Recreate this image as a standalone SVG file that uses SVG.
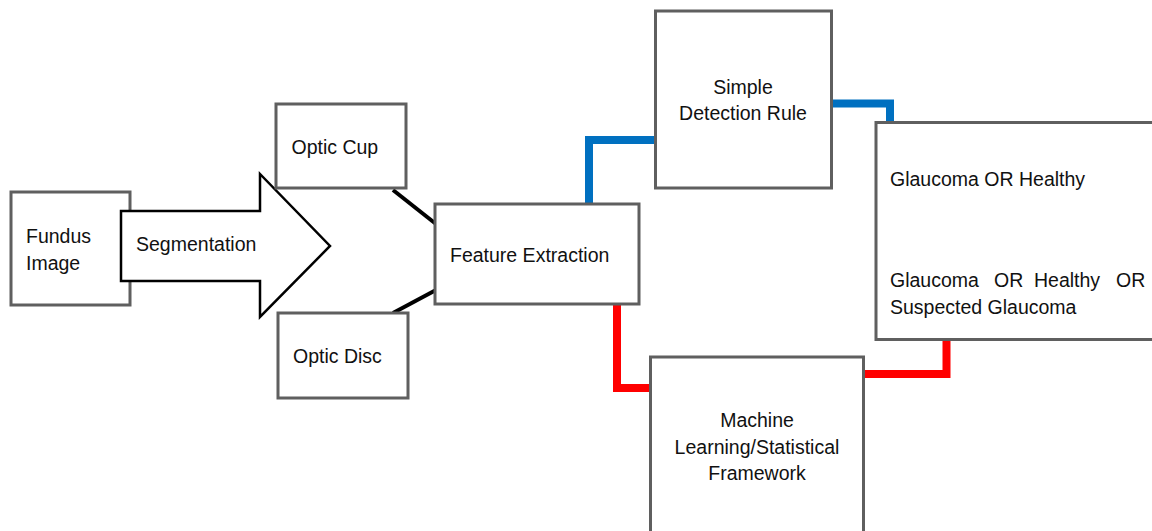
<svg xmlns="http://www.w3.org/2000/svg" width="1152" height="531" viewBox="0 0 1152 531">
<style>
.box{fill:#fff;stroke:#5f5f5f;stroke-width:3}
.t{font-family:"Liberation Sans",Arial,sans-serif;font-size:19.5px;fill:#111}
.c{text-anchor:middle}
.blue{fill:none;stroke:#0070c0;stroke-width:8}
.red{fill:none;stroke:#ff0000;stroke-width:8}
.blk{stroke:#000;stroke-width:4}
</style>
<rect width="1152" height="531" fill="#fff"/>
<g id="connectors">
<path class="blk" d="M393,190 L436,224"/>
<path class="blk" d="M393,313 L436,290"/>
<path class="blue" d="M589,204 V140 H656"/>
<path class="blue" d="M831,103.5 H890 V123"/>
<path class="red" d="M617,304 V388 H651"/>
<path class="red" d="M863,374 H946.5 V339"/>
</g>
<g id="fundus">
<rect class="box" x="11" y="192" width="119" height="113"/>
<text class="t" x="26" y="243">Fundus</text>
<text class="t" x="26" y="270">Image</text>
</g>
<g id="segmentation">
<path d="M121,211 H260 V174 L330,246 L260,317 V281 H121 Z" fill="#fff" stroke="#000" stroke-width="2.5" stroke-linejoin="miter"/>
<text class="t" x="136" y="251">Segmentation</text>
</g>
<g id="optic-cup">
<rect class="box" x="276" y="104" width="130" height="84"/>
<text class="t" x="291.5" y="153.5">Optic Cup</text>
</g>
<g id="optic-disc">
<rect class="box" x="278" y="313" width="130" height="85"/>
<text class="t" x="293" y="363">Optic Disc</text>
</g>
<g id="feature-extraction">
<rect class="box" x="435" y="204" width="204" height="100"/>
<text class="t" x="450" y="262">Feature Extraction</text>
</g>
<g id="simple-detection">
<rect class="box" x="655.5" y="11" width="176" height="177"/>
<text class="t c" x="743" y="93.5">Simple</text>
<text class="t c" x="743" y="120">Detection Rule</text>
</g>
<g id="outcome">
<rect class="box" x="876" y="122.5" width="290" height="217"/>
<text class="t" x="890" y="186">Glaucoma OR Healthy</text>
<text class="t" y="287"><tspan x="890">Glaucoma</tspan><tspan x="994">OR</tspan><tspan x="1034">Healthy</tspan><tspan x="1116">OR</tspan></text>
<text class="t" x="890" y="313.5">Suspected Glaucoma</text>
</g>
<g id="ml-framework">
<rect class="box" x="650.5" y="357" width="213" height="190"/>
<text class="t c" x="757" y="427">Machine</text>
<text class="t c" x="757" y="453.5">Learning/Statistical</text>
<text class="t c" x="757" y="480">Framework</text>
</g>
</svg>
